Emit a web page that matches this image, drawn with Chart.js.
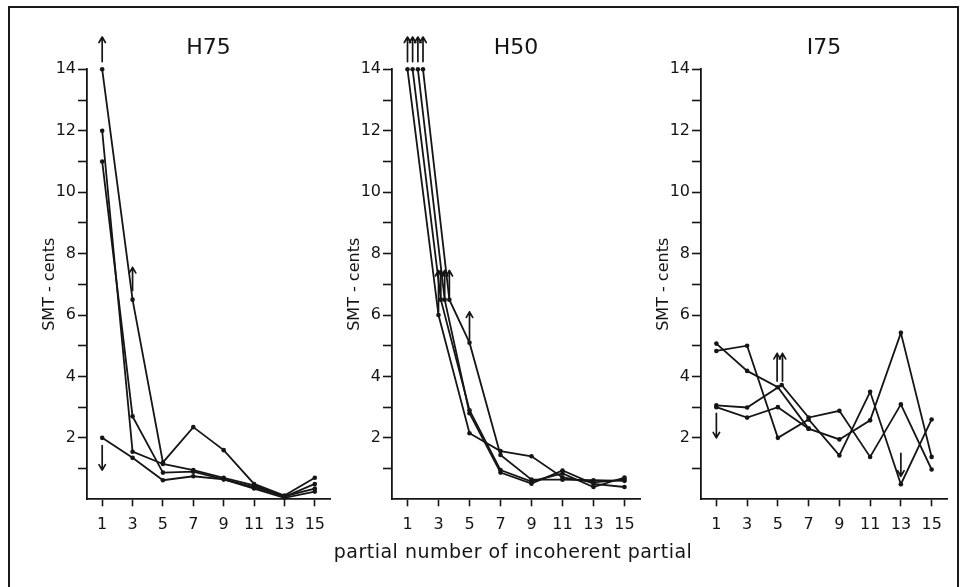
<!DOCTYPE html>
<html>
<head>
<meta charset="utf-8">
<script src="https://cdn.jsdelivr.net/npm/chart.js@4.4.1/dist/chart.umd.min.js"></script>
<style>
  html, body { margin:0; padding:0; background:#fff; }
  body { width:966px; height:587px; position:relative; overflow:hidden; }
  #frame { position:absolute; left:8px; top:6px; width:951px; height:640px; border:2px solid #1a1a1a; border-bottom:none; box-sizing:border-box; }
  canvas { position:absolute; top:0; }
  #xtitle { position:absolute; left:213px; width:600px; top:540px; text-align:center; font:19px "DejaVu Sans", sans-serif; letter-spacing:0.5px; color:#151515; }
</style>
</head>
<body>
<div id="frame"></div>
<canvas id="c1" width="335" height="587" style="left:12px"></canvas>
<canvas id="c2" width="325" height="587" style="left:330px"></canvas>
<canvas id="c3" width="326" height="587" style="left:640px"></canvas>
<div id="xtitle">partial number of incoherent partial</div>
<script>
// ---------- data ----------
const partials = [1, 3, 5, 7, 9, 11, 13, 15];
const yTickValues = [1, 2, 3, 4, 5, 6, 7, 8, 9, 10, 11, 12, 13, 14];
const yLabelValues = [2, 4, 6, 8, 10, 12, 14];
const panelTitles = ['H75', 'H50', 'I75'];
const yTitle = 'SMT - cents';

// H75
const h75A = [14, 6.5, 1.2, 2.35, 1.6, 0.5, 0.12, 0.7];
const h75B = [12, 1.55, 1.15, 0.95, 0.7, 0.45, 0.08, 0.5];
const h75C = [11, 2.7, 0.87, 0.9, 0.65, 0.4, 0.1, 0.35];
const h75D = [2, 1.35, 0.62, 0.75, 0.65, 0.35, 0.05, 0.25];
const h75ArrowX = [1, 3, 1];
const h75ArrowFrom = [14.25, 6.8, 1.75];
const h75ArrowTo = [15.05, 7.55, 0.95];

// H50 (first points drawn side by side)
const h50X1 = [1.0, 3.0, 5, 7, 9, 11, 13, 15];
const h50X2 = [1.33, 3.15, 5, 7, 9, 11, 13, 15];
const h50X3 = [1.67, 3.4, 5, 7, 9, 11, 13, 15];
const h50X4 = [2.0, 3.7, 5, 7, 9, 11, 13, 15];
const h50A = [14, 6.0, 2.15, 1.57, 1.4, 0.71, 0.55, 0.64];
const h50B = [14, 6.5, 2.9, 0.95, 0.58, 0.84, 0.4, 0.71];
const h50C = [14, 6.5, 2.8, 0.87, 0.51, 0.94, 0.5, 0.4];
const h50D = [14, 6.5, 5.1, 1.44, 0.64, 0.64, 0.62, 0.6];
const h50ArrowX = [1.0, 1.33, 1.67, 2.0, 3.0, 3.15, 3.4, 3.7, 5.0];
const h50ArrowFrom = [14.25, 14.25, 14.25, 14.25, 6.1, 6.6, 6.6, 6.6, 5.2];
const h50ArrowTo = [15.05, 15.05, 15.05, 15.05, 7.45, 7.45, 7.45, 7.45, 6.1];

// I75
const i75XR = [1, 3, 5.25, 7, 9, 11, 13, 15];
const i75P = [5.07, 4.18, 3.65, 2.3, 1.95, 2.57, 5.42, 1.38];
const i75Q = [4.83, 5.0, 2.0, 2.6, 1.43, 3.5, 0.49, 2.6];
const i75R = [3.06, 2.99, 3.72, 2.66, 2.88, 1.38, 3.09, 0.97];
const i75S = [3.0, 2.66, 3.0, 2.3, null, null, null, null];
const i75ArrowX = [1, 4.95, 5.3, 13];
const i75ArrowFrom = [2.8, 3.85, 3.85, 1.5];
const i75ArrowTo = [2.0, 4.75, 4.75, 0.75];

// ---------- drawing ----------
const FONT = '"DejaVu Sans", sans-serif';
const INK = '#151515';

const arrowPlugin = {
  id: 'limitArrows',
  afterDatasetsDraw(chart, args, opts) {
    const arrows = opts.arrows || [];
    const ctx = chart.ctx, xs = chart.scales.x, ys = chart.scales.y;
    ctx.save();
    ctx.strokeStyle = INK; ctx.lineWidth = 1.7; ctx.lineCap = 'round'; ctx.lineJoin = 'round';
    arrows.forEach(a => {
      const px = xs.getPixelForValue(a.x);
      const p0 = ys.getPixelForValue(a.from);
      const p1 = ys.getPixelForValue(a.to);
      const dir = p1 < p0 ? 1 : -1;
      ctx.beginPath();
      ctx.moveTo(px, p0); ctx.lineTo(px, p1);
      ctx.moveTo(px - 3.2, p1 + dir * 5.5); ctx.lineTo(px, p1); ctx.lineTo(px + 3.2, p1 + dir * 5.5);
      ctx.stroke();
    });
    ctx.restore();
  }
};

function series(xs, ys) {
  return xs.map((x, i) => ({x: x, y: ys[i]})).filter(p => p.y !== null);
}
function arrowsOf(xs, from, to) {
  return xs.map((x, i) => ({x: x, from: from[i], to: to[i]}));
}

// layout geometry for each panel: canvas left/width and chart-area page x-range
const panels = [
  {id: 'c1', left: 12, width: 335, a: 87, b: 330},
  {id: 'c2', left: 330, width: 325, a: 392, b: 640},
  {id: 'c3', left: 640, width: 326, a: 701, b: 947}
];
const YW = 55;

function makeChart(p, title, lines, arrows) {
  const pl = p.a - p.left - YW;
  const pr = p.left + p.width - p.b;
  const datasets = lines.map(l => ({
    data: series(l[0], l[1]),
    borderColor: INK, backgroundColor: INK, borderWidth: 1.8,
    pointRadius: 2.3, pointBackgroundColor: INK, pointBorderWidth: 0,
    tension: 0, clip: false, spanGaps: false
  }));
  new Chart(document.getElementById(p.id), {
    type: 'line',
    data: {datasets: datasets},
    plugins: [arrowPlugin],
    options: {
      responsive: false, animation: false, devicePixelRatio: 1,
      layout: {padding: {left: pl, right: pr, top: 34.8, bottom: 47.7}},
      plugins: {
        legend: {display: false}, tooltip: {enabled: false},
        title: {display: true, text: title, fullSize: false, color: INK,
                font: {family: FONT, size: 22, weight: 'normal'}, padding: {top: 0, bottom: 8.1}},
        limitArrows: {arrows: arrows}
      },
      scales: {
        x: {
          type: 'linear', min: 0, max: 16,
          afterBuildTicks: s => { s.ticks = partials.map(v => ({value: v})); },
          afterFit: s => { s.height = 40; },
          grid: {drawOnChartArea: false, drawTicks: true, tickLength: 7, tickColor: INK, tickWidth: 1.6},
          border: {display: true, color: INK, width: 1.8},
          ticks: {color: INK, font: {family: FONT, size: 16}, padding: 9, maxRotation: 0, autoSkip: false}
        },
        y: {
          type: 'linear', min: 0, max: 14,
          afterBuildTicks: s => { s.ticks = yTickValues.map(v => ({value: v})); },
          afterFit: s => { s.width = YW; },
          grid: {drawOnChartArea: false, drawTicks: true, tickLength: 9, tickColor: INK, tickWidth: 1.6},
          border: {display: true, color: INK, width: 1.8},
          ticks: {color: INK, font: {family: FONT, size: 16}, padding: 2, autoSkip: false,
                  callback: v => yLabelValues.includes(v) ? String(v) : ''},
          title: {display: true, text: yTitle, color: INK, font: {family: FONT, size: 16},
                  padding: {top: 8, bottom: 0}}
        }
      }
    }
  });
}

makeChart(panels[0], panelTitles[0],
  [[partials, h75A], [partials, h75B], [partials, h75C], [partials, h75D]],
  arrowsOf(h75ArrowX, h75ArrowFrom, h75ArrowTo));
makeChart(panels[1], panelTitles[1],
  [[h50X1, h50A], [h50X2, h50B], [h50X3, h50C], [h50X4, h50D]],
  arrowsOf(h50ArrowX, h50ArrowFrom, h50ArrowTo));
makeChart(panels[2], panelTitles[2],
  [[partials, i75P], [partials, i75Q], [i75XR, i75R], [partials, i75S]],
  arrowsOf(i75ArrowX, i75ArrowFrom, i75ArrowTo));
</script>
</body>
</html>
